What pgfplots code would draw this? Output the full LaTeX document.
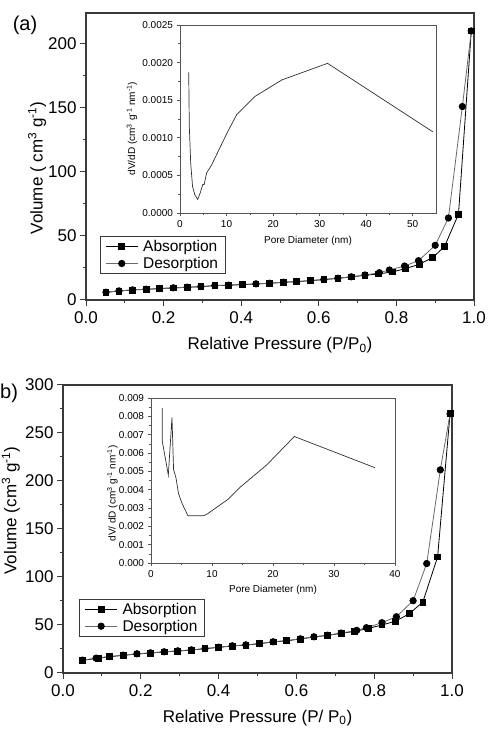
\documentclass[border=0pt]{standalone}
\usepackage{fontspec}
\setmainfont{Liberation Sans}
\usepackage{pgfplots}
\pgfplotsset{compat=1.18}
\definecolor{axgray}{HTML}{3A3A3A}
\definecolor{insgray}{HTML}{555555}
\definecolor{desgray}{HTML}{6A6A6A}
\definecolor{curvegray}{HTML}{2E2E2E}
\pgfplotsset{
  mainax/.style={
    scale only axis,
    axis line style={axgray, line width=1.3pt},
    tick style={axgray, line width=1pt},
    tick align=outside,
    major tick length=6pt, minor tick length=3.5pt,
    xtick pos=bottom, ytick pos=left,
    /pgf/number format/assume math mode=true,
    label style={font=\fontsize{17}{20}\selectfont},
    tick label style={font=\fontsize{17}{20}\selectfont},
    xticklabel style={yshift=-2pt},
    xmin=0, xmax=1, xtick={0,0.2,0.4,0.6,0.8,1},
    minor x tick num=1, minor y tick num=1,
    xticklabel style={/pgf/number format/.cd, fixed, fixed zerofill, precision=1},
    legend cell align=left,
    legend style={draw=axgray, line width=0.8pt, font=\fontsize{15.5}{18}\selectfont,
      inner xsep=5pt, inner ysep=2pt, row sep=0pt, column sep=3pt},
    legend image code/.code={
      \draw[mark repeat=2,mark phase=2,#1] plot coordinates {(0pt,0pt) (16pt,0pt) (32pt,0pt)};
    },
  },
  insax/.style={
    scale only axis,
    axis line style={insgray, line width=0.8pt},
    tick style={insgray, line width=0.6pt},
    tick align=outside,
    major tick length=3.5pt, minor tick length=2pt,
    xtick pos=bottom, ytick pos=left,
    /pgf/number format/assume math mode=true,
    label style={font=\fontsize{10}{12}\selectfont},
    tick label style={font=\fontsize{10}{12}\selectfont},
    minor x tick num=1, minor y tick num=1,
    scaled y ticks=false, scaled x ticks=false,
  },
  absplot/.style={black, line width=0.8pt, mark=square*, mark size=2.9pt, mark options={solid, fill=black}},
  desplot/.style={desgray, line width=0.8pt, mark=*, mark size=3.2pt, mark options={solid, fill=black, draw=black}},
  psdplot/.style={curvegray, line width=0.7pt, no marks},
}
\begin{document}
\begin{tikzpicture}[x=1pt,y=1pt]
\path[use as bounding box] (0,0) rectangle (487,730);

% ---------------- Panel (a) ----------------
\begin{axis}[mainax,
  at={(86pt,430pt)}, anchor=south west,
  width=388pt, height=287pt,
  ymin=0, ymax=224, ytick={0,50,100,150,200},
  xlabel={Relative Pressure (P/P\textsubscript{0})},
  ylabel={Volume ( cm\textsuperscript{3} g\textsuperscript{-1})},
  xlabel style={at={(axis description cs:0.5,-0.157)}, anchor=center},
  ylabel style={at={(axis description cs:-0.126,0.46)}, anchor=center},
  legend style={at={(axis description cs:0.036,0.223)}, anchor=north west},
]
\addplot[absplot] coordinates {
(0.0515,6.0) (0.085,7.0) (0.12,7.8) (0.155,8.3) (0.189,8.9) (0.225,9.4)
(0.261,9.9) (0.296,10.4) (0.332,11.2) (0.368,11.5) (0.403,12.0) (0.438,12.5)
(0.473,13.0) (0.509,13.8) (0.543,14.3) (0.579,15.1) (0.613,15.9) (0.649,16.9)
(0.684,18.0) (0.719,19.3) (0.754,20.3) (0.79,22.0) (0.824,24.5) (0.859,27.9)
(0.893,33.0) (0.924,41.7) (0.96,67.0) (0.993,210)
};
\addlegendentry{Absorption}
\addplot[desplot] coordinates {
(0.993,210) (0.97,151) (0.934,64) (0.9,42.7) (0.857,30.7) (0.821,26.5)
(0.782,23.4) (0.756,21.3) (0.719,19.5) (0.684,18.1) (0.649,17.0) (0.613,16.0)
(0.579,15.2) (0.543,14.4) (0.509,13.9) (0.473,13.1) (0.438,12.6) (0.403,12.1)
(0.368,11.6) (0.332,11.3) (0.296,10.5) (0.261,10.0) (0.225,9.5) (0.189,9.0)
(0.155,8.4) (0.12,7.9) (0.085,7.1) (0.0515,6.1)
};
\addlegendentry{Desorption}
\end{axis}

\begin{axis}[insax,
  at={(180pt,517pt)}, anchor=south west,
  width=256pt, height=188pt,
  xmin=0, xmax=55, xtick={0,10,20,30,40,50},
  ymin=0, ymax=0.0025, ytick={0,0.0005,0.001,0.0015,0.002,0.0025},
  yticklabel style={/pgf/number format/.cd, fixed, fixed zerofill, precision=4},
  xlabel={Pore Diameter (nm)},
  ylabel={dV/dD (cm\textsuperscript{3} g\textsuperscript{-1} nm\textsuperscript{-1})},
  xlabel style={at={(axis description cs:0.5,-0.147)}, anchor=center},
  ylabel style={at={(axis description cs:-0.1875,0.449)}, anchor=center},
]
\addplot[psdplot] coordinates {
(1.87,0.00187) (2.0,0.00115) (2.3,0.00066) (2.7,0.00035) (3.2,0.00024)
(3.8,0.00018) (4.3,0.00026) (4.9,0.00038) (5.2,0.00038) (5.7,0.00053)
(6.8,0.00064) (8.2,0.00082) (10.4,0.00110) (12.2,0.00131) (16.1,0.00155)
(21.9,0.00177) (31.7,0.00199) (54.3,0.00108)
};
\end{axis}

% ---------------- Panel (b) ----------------
\begin{axis}[mainax,
  at={(63pt,57pt)}, anchor=south west,
  width=389pt, height=288pt,
  ymin=0, ymax=300, ytick={0,50,100,150,200,250,300},
  xlabel={Relative Pressure (P/ P\textsubscript{0})},
  ylabel={Volume (cm\textsuperscript{3} g\textsuperscript{-1})},
  xlabel style={at={(axis description cs:0.5,-0.156)}, anchor=center},
  ylabel style={at={(axis description cs:-0.134,0.564)}, anchor=center},
  legend style={at={(axis description cs:0.042,0.258)}, anchor=north west},
]
\addplot[absplot] coordinates {
(0.05,13.2) (0.09,15.3) (0.12,17.0) (0.155,18.4) (0.19,19.8) (0.225,20.8)
(0.26,21.9) (0.295,22.9) (0.33,23.9) (0.365,25.3) (0.40,26.7) (0.435,28.1)
(0.47,29.1) (0.505,30.5) (0.54,32.3) (0.575,33.6) (0.61,35.4) (0.645,37.5)
(0.68,39.2) (0.715,41.3) (0.75,43.4) (0.785,46.5) (0.82,50.0) (0.855,54.0)
(0.89,61.7) (0.925,73.9) (0.963,121) (0.995,270)
};
\addlegendentry{Absorption}
\addplot[desplot] coordinates {
(0.995,270) (0.97,211.6) (0.935,114) (0.90,75.3) (0.857,58.6) (0.82,52.4)
(0.78,47.2) (0.755,44.4) (0.715,41.6) (0.68,39.4) (0.645,37.7) (0.61,35.6)
(0.575,33.8) (0.54,32.5) (0.505,30.7) (0.47,29.3) (0.435,28.3) (0.40,26.9)
(0.365,25.5) (0.33,24.1) (0.295,23.1) (0.26,22.1) (0.225,21.0) (0.19,20.0)
(0.155,18.6) (0.12,17.2) (0.085,15.5) (0.05,13.4)
};
\addlegendentry{Desorption}
\end{axis}

\begin{axis}[insax,
  at={(151pt,167pt)}, anchor=south west,
  width=244pt, height=165pt,
  xmin=0, xmax=40, xtick={0,10,20,30,40},
  ymin=0, ymax=0.009,
  ytick={0,0.001,0.002,0.003,0.004,0.005,0.006,0.007,0.008,0.009},
  yticklabel style={/pgf/number format/.cd, fixed, fixed zerofill, precision=3},
  xlabel={Pore Diameter (nm)},
  ylabel={dV/ dD (cm\textsuperscript{3} g\textsuperscript{-1} nm\textsuperscript{-1})},
  xlabel style={at={(axis description cs:0.5,-0.164)}, anchor=center},
  ylabel style={at={(axis description cs:-0.158,0.422)}, anchor=center},
]
\addplot[psdplot] coordinates {
(1.85,0.00845) (1.85,0.00664) (2.84,0.0048) (3.44,0.00794) (3.7,0.0051)
(4.1,0.00464) (4.5,0.0038) (5.1,0.00324) (6.05,0.00258) (8.6,0.00258)
(9.2,0.00267) (12.7,0.00349) (14.6,0.00413) (19.0,0.00536) (23.5,0.0069)
(36.7,0.0052)
};
\end{axis}

\node[anchor=center, font=\fontsize{20}{24}\selectfont] at (25,705) {(a)};
\node[anchor=west, inner sep=0pt, font=\fontsize{20}{24}\selectfont] at (0,337) {b)};
\end{tikzpicture}
\end{document}
